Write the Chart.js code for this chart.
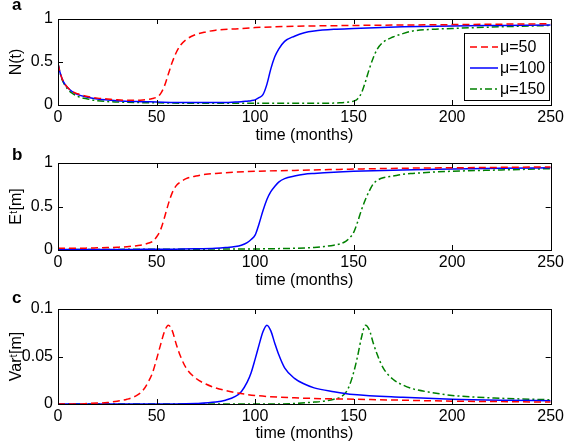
<!DOCTYPE html>
<html>
<head>
<meta charset="utf-8">
<script src="https://cdn.jsdelivr.net/npm/chart.js@4"></script>
<style>
body { margin: 0; background: #fff; }
#wrap { position: relative; width: 567px; height: 443px; font-family: "Liberation Sans", Arial, sans-serif; }
canvas { position: absolute; left: 0; }
.tag { position: absolute; left: 12px; font-weight: bold; font-size: 17px; line-height: 17px; }
</style>
</head>
<body>
<div id="wrap">
  <canvas id="pa" width="567" height="145" style="top:0px"></canvas>
  <canvas id="pb" width="567" height="145" style="top:145px"></canvas>
  <canvas id="pc" width="567" height="153" style="top:290px"></canvas>
  <div class="tag" style="top:-4px">a</div>
  <div class="tag" style="top:146px">b</div>
  <div class="tag" style="top:289px">c</div>
</div>
<script>
// time grids (months), denser around each switch
var time50 = [0, 1, 2, 3, 5, 7, 10, 15, 20, 25, 30, 35, 40, 43, 46, 48, 50, 52, 54, 56, 58, 60, 62, 65, 70, 75, 80, 90, 100, 120, 150, 175, 200, 225, 250];
var time100 = [0, 1, 2, 3, 5, 7, 10, 15, 20, 30, 40, 50, 60, 70, 80, 85, 90, 93, 96, 98, 100, 102, 104, 106, 108, 110, 112, 115, 120, 125, 130, 140, 150, 175, 200, 225, 250];
var time150 = [0, 1, 2, 3, 5, 7, 10, 15, 20, 30, 50, 75, 100, 110, 120, 130, 135, 140, 143, 146, 148, 150, 152, 154, 156, 158, 160, 162, 165, 170, 175, 180, 190, 200, 225, 250];

// panel a: N(t)
var nMu50 = [0.48, 0.38, 0.31, 0.26, 0.2, 0.16, 0.13, 0.1, 0.08, 0.07, 0.06, 0.055, 0.055, 0.058, 0.065, 0.075, 0.09, 0.13, 0.22, 0.36, 0.5, 0.61, 0.69, 0.76, 0.82, 0.85, 0.87, 0.885, 0.9, 0.915, 0.925, 0.93, 0.935, 0.94, 0.945];
var nMu100 = [0.48, 0.38, 0.31, 0.26, 0.2, 0.16, 0.12, 0.09, 0.07, 0.05, 0.04, 0.035, 0.03, 0.03, 0.03, 0.03, 0.035, 0.038, 0.045, 0.05, 0.06, 0.085, 0.12, 0.24, 0.42, 0.56, 0.65, 0.74, 0.8, 0.84, 0.86, 0.88, 0.89, 0.91, 0.92, 0.925, 0.93];
var nMu150 = [0.48, 0.38, 0.3, 0.25, 0.18, 0.14, 0.1, 0.07, 0.05, 0.035, 0.025, 0.02, 0.02, 0.02, 0.02, 0.02, 0.02, 0.022, 0.025, 0.03, 0.035, 0.045, 0.07, 0.14, 0.27, 0.42, 0.55, 0.65, 0.73, 0.79, 0.83, 0.86, 0.88, 0.89, 0.91, 0.925];

// panel b: E^t[m]
var eMu50 = [0.02, 0.02, 0.02, 0.02, 0.02, 0.02, 0.02, 0.022, 0.025, 0.028, 0.032, 0.038, 0.05, 0.06, 0.08, 0.1, 0.15, 0.23, 0.37, 0.53, 0.66, 0.74, 0.78, 0.82, 0.85, 0.87, 0.88, 0.895, 0.905, 0.915, 0.93, 0.94, 0.945, 0.95, 0.955];
var eMu100 = [0.005, 0.005, 0.005, 0.005, 0.005, 0.005, 0.005, 0.005, 0.006, 0.006, 0.007, 0.008, 0.01, 0.013, 0.02, 0.028, 0.04, 0.055, 0.085, 0.12, 0.17, 0.3, 0.45, 0.58, 0.67, 0.73, 0.78, 0.82, 0.85, 0.87, 0.88, 0.895, 0.905, 0.92, 0.93, 0.94, 0.945];
var eMu150 = [0.005, 0.005, 0.005, 0.005, 0.005, 0.005, 0.005, 0.005, 0.006, 0.007, 0.008, 0.01, 0.012, 0.015, 0.02, 0.03, 0.04, 0.055, 0.07, 0.1, 0.14, 0.2, 0.32, 0.46, 0.58, 0.68, 0.76, 0.8, 0.83, 0.85, 0.87, 0.88, 0.895, 0.905, 0.92, 0.935];

// panel c: Var^t[m]
var varMu50 = [0, 0, 0, 0, 0, 0, 0, 0.0005, 0.001, 0.0015, 0.003, 0.005, 0.009, 0.014, 0.024, 0.033, 0.047, 0.062, 0.076, 0.083, 0.077, 0.063, 0.051, 0.038, 0.027, 0.021, 0.017, 0.012, 0.009, 0.0065, 0.005, 0.004, 0.003, 0.0025, 0.002];
var varMu100 = [0, 0, 0, 0, 0, 0, 0, 0, 0, 0, 0, 0, 0, 0.0005, 0.002, 0.004, 0.008, 0.013, 0.023, 0.033, 0.047, 0.062, 0.076, 0.083, 0.077, 0.064, 0.052, 0.038, 0.027, 0.021, 0.017, 0.013, 0.01, 0.007, 0.005, 0.004, 0.0035];
var varMu150 = [0, 0, 0, 0, 0, 0, 0, 0, 0, 0, 0, 0, 0, 0, 0.0005, 0.002, 0.003, 0.005, 0.007, 0.012, 0.02, 0.033, 0.05, 0.07, 0.083, 0.078, 0.064, 0.052, 0.038, 0.026, 0.02, 0.016, 0.012, 0.009, 0.006, 0.0045];

var muLabels = ["\u03bc=50", "\u03bc=100", "\u03bc=150"];
var xTicks = [0, 50, 100, 150, 200, 250];

Chart.defaults.font.family = '"Liberation Sans", Arial, sans-serif';
Chart.defaults.font.size = 16;
Chart.defaults.color = "#000";

var styles = [
  { borderColor: "#ff0000", borderDash: [7, 4] },
  { borderColor: "#0000ff", borderDash: [] },
  { borderColor: "#008000", borderDash: [7, 3, 2, 3] }
];

function pts(times, vals) {
  return times.map(function (t, i) { return { x: t, y: vals[i] }; });
}

// black box round the plot with inward ticks on all four sides
var frame = {
  id: "frame",
  afterDatasetsDraw: function (chart) {
    var ctx = chart.ctx, a = chart.chartArea, x = chart.scales.x, y = chart.scales.y;
    ctx.save();
    ctx.strokeStyle = "#000";
    ctx.lineWidth = 1;
    ctx.setLineDash([]);
    ctx.beginPath();
    x.ticks.forEach(function (t) {
      var px = Math.round(x.getPixelForValue(t.value)) + 0.5;
      ctx.moveTo(px, a.bottom); ctx.lineTo(px, a.bottom - 5);
      ctx.moveTo(px, a.top); ctx.lineTo(px, a.top + 5);
    });
    y.ticks.forEach(function (t) {
      var py = Math.round(y.getPixelForValue(t.value)) + 0.5;
      ctx.moveTo(a.left, py); ctx.lineTo(a.left + 5, py);
      ctx.moveTo(a.right, py); ctx.lineTo(a.right - 5, py);
    });
    ctx.stroke();
    ctx.strokeRect(Math.round(a.left) + 0.5, Math.round(a.top) + 0.5, Math.round(a.width), Math.round(a.height));
    ctx.restore();
  }
};

// legend box inside panel a
var legendBox = {
  id: "legendBox",
  afterDraw: function (chart) {
    var ctx = chart.ctx;
    var bx = 464, by = 33, bw = 85, bh = 67;
    ctx.save();
    ctx.fillStyle = "#fff";
    ctx.fillRect(bx, by, bw, bh);
    ctx.strokeStyle = "#000";
    ctx.lineWidth = 1;
    ctx.strokeRect(bx + 0.5, by + 0.5, bw, bh);
    chart.data.datasets.forEach(function (ds, i) {
      var ly = by + 14 + i * 21;
      ctx.strokeStyle = ds.borderColor;
      ctx.lineWidth = 1.5;
      ctx.setLineDash(ds.borderDash);
      ctx.beginPath();
      ctx.moveTo(470, ly); ctx.lineTo(498, ly);
      ctx.stroke();
      ctx.setLineDash([]);
      ctx.fillStyle = "#000";
      ctx.font = '16px "Liberation Sans", Arial, sans-serif';
      ctx.textBaseline = "middle";
      ctx.fillText(ds.label, 500, ly + 1);
    });
    ctx.restore();
  }
};

function makeChart(id, series, yTitle, yMax, yStep, padTop, axisH, extra) {
  var plugins = [frame];
  if (extra) plugins.push(extra);
  return new Chart(id, {
    type: "line",
    data: {
      datasets: series.map(function (s, i) {
        return {
          label: muLabels[i],
          data: s,
          borderColor: styles[i].borderColor,
          borderDash: styles[i].borderDash,
          borderWidth: 1.5,
          pointRadius: 0,
          fill: false,
          cubicInterpolationMode: "monotone"
        };
      })
    },
    options: {
      responsive: false,
      animation: false,
      layout: { padding: { top: padTop, right: 14, left: 0, bottom: 0 } },
      plugins: { legend: { display: false }, tooltip: { enabled: false } },
      scales: {
        x: {
          type: "linear",
          min: 0,
          max: 250,
          afterBuildTicks: function (scale) {
            scale.ticks = xTicks.map(function (v) { return { value: v }; });
          },
          grid: { display: false, drawTicks: false },
          border: { display: false },
          ticks: { padding: 3, maxRotation: 0 },
          title: { display: true, text: "time (months)", padding: { top: 0, bottom: 0 } },
          afterFit: function (scale) { scale.height = axisH; }
        },
        y: {
          min: 0,
          max: yMax,
          ticks: {
            stepSize: yStep,
            padding: 5,
            callback: function (v) { return String(+v.toFixed(3)); }
          },
          grid: { display: false, drawTicks: false },
          border: { display: false },
          title: { display: true, text: yTitle, padding: { top: 7, bottom: 0 } },
          afterFit: function (scale) { scale.width = 58; }
        }
      }
    },
    plugins: plugins
  });
}

makeChart("pa", [pts(time50, nMu50), pts(time100, nMu100), pts(time150, nMu150)], "N(t)", 1, 0.5, 19, 40, legendBox);
makeChart("pb", [pts(time50, eMu50), pts(time100, eMu100), pts(time150, eMu150)], "E\u1d57[m]", 1, 0.5, 18, 40);
makeChart("pc", [pts(time50, varMu50), pts(time100, varMu100), pts(time150, varMu150)], "Var\u1d57[m]", 0.1, 0.05, 19, 39);
</script>
</body>
</html>
